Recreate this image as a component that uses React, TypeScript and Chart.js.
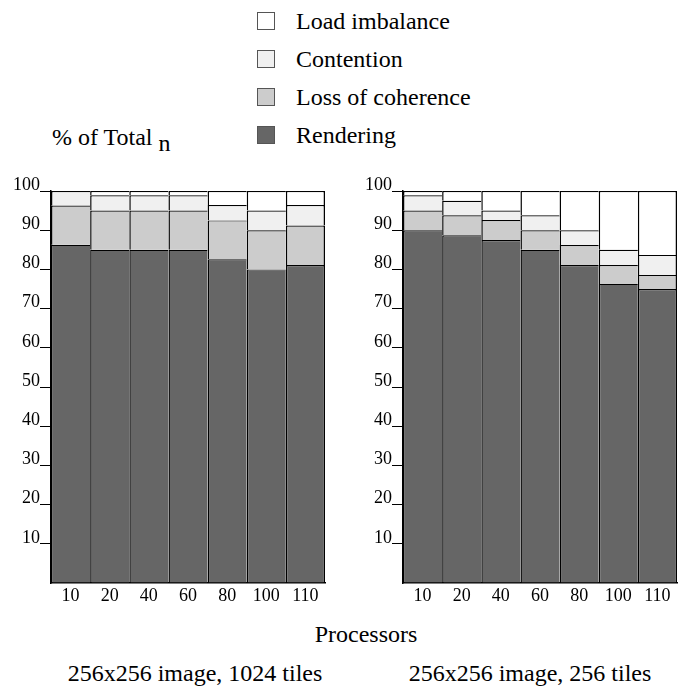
import React, { useEffect, useRef } from "react";
import { Chart, registerables } from "chart.js";

Chart.register(...registerables);

// Processor counts along the x axis
const processors = ["10", "20", "40", "60", "80", "100", "110"];

// 256x256 image, 1024 tiles (% of total time)
const rendering1024 = [86.3, 85, 85, 85, 82.6, 80, 81.1];
const coherence1024 = [10, 10, 10, 10, 9.9, 10, 10.1];
const contention1024 = [3.7, 3.9, 3.9, 3.9, 3.9, 5, 5.2];
const imbalance1024 = [0, 1.1, 1.1, 1.1, 3.6, 5, 3.6];

// 256x256 image, 256 tiles (% of total time)
const rendering256 = [90, 88.7, 87.5, 85, 81.1, 76.3, 75];
const coherence256 = [5, 5.1, 5.1, 5, 5.1, 4.8, 3.6];
const contention256 = [3.9, 3.7, 2.4, 3.8, 3.8, 3.9, 5.1];
const imbalance256 = [1.1, 2.5, 5, 6.2, 10, 15, 16.3];

const seriesNames = ["Rendering", "Loss of coherence", "Contention", "Load imbalance"];
const seriesColors = ["#666666", "#cccccc", "#f0f0f0", "#ffffff"];

const SERIF = "'Liberation Serif', 'Times New Roman', serif";

type PanelProps = {
  left: number;
  width: number;
  padRight: number;
  series: number[][];
};

function StackedPanel({ left, width, padRight, series }: PanelProps) {
  const ref = useRef<HTMLCanvasElement | null>(null);

  useEffect(() => {
    if (!ref.current) return;
    const lastIndex = processors.length - 1;
    const chart = new Chart(ref.current, {
      type: "bar",
      data: {
        labels: processors,
        datasets: series.map((data, i) => ({
          label: seriesNames[i],
          data,
          backgroundColor: seriesColors[i],
          borderColor: "#000000",
          borderSkipped: false,
          borderWidth: (ctx: any) => ({
            top: 1.2,
            left: 1.5,
            bottom: 0,
            right: ctx.dataIndex === lastIndex ? 1.5 : 0,
          }),
          categoryPercentage: 1,
          barPercentage: 1,
          inflateAmount: 0,
        })),
      },
      options: {
        responsive: false,
        animation: false,
        devicePixelRatio: 1,
        layout: { padding: { top: 21, right: padRight, left: 0, bottom: 0 } },
        plugins: {
          legend: { display: false },
          tooltip: { enabled: false },
        },
        scales: {
          x: {
            stacked: true,
            grid: { display: false, drawTicks: false },
            border: { display: true, color: "#000000", width: 1.5 },
            ticks: {
              color: "#000000",
              font: { family: SERIF, size: 18 },
              padding: 2,
              autoSkip: false,
              maxRotation: 0,
            },
            afterFit: (scale: any) => {
              scale.height = 27;
            },
          },
          y: {
            stacked: true,
            min: 0,
            max: 100,
            grid: {
              drawOnChartArea: false,
              drawTicks: true,
              tickLength: 11,
              tickWidth: 1,
              tickColor: (ctx: any) =>
                ctx.tick && ctx.tick.value === 0 ? "rgba(0,0,0,0)" : "#000000",
            },
            border: { display: true, color: "#000000", width: 1.5 },
            ticks: {
              stepSize: 10,
              color: "#000000",
              font: { family: SERIF, size: 18 },
              padding: 0,
              labelOffset: -6,
              callback: (v: any) => (Number(v) === 0 ? "" : String(v)),
            },
            afterFit: (scale: any) => {
              scale.width = 51;
            },
          },
        },
      } as any,
    });
    return () => chart.destroy();
  }, []);

  return (
    <canvas
      ref={ref}
      width={width}
      height={440}
      style={{ position: "absolute", left, top: 170, width, height: 440 }}
    />
  );
}

const textStyle: React.CSSProperties = {
  position: "absolute",
  fontFamily: SERIF,
  fontSize: 24,
  lineHeight: "24px",
  color: "#000000",
  whiteSpace: "nowrap",
};

// top of a 24px line box whose baseline sits at y
const lineTop = (baseline: number) => baseline - 20;

function Legend() {
  const rows = [3, 2, 1, 0];
  return (
    <>
      {rows.map((s, r) => {
        const baseline = 28.5 + r * 38.3;
        return (
          <React.Fragment key={seriesNames[s]}>
            <div
              style={{
                position: "absolute",
                left: 257,
                top: baseline - 17,
                width: 16,
                height: 16,
                background: seriesColors[s],
                border: "1px solid #555555",
              }}
            />
            <div style={{ ...textStyle, left: 296, top: lineTop(baseline) }}>
              {seriesNames[s]}
            </div>
          </React.Fragment>
        );
      })}
    </>
  );
}

export default function App() {
  return (
    <div
      style={{
        position: "absolute",
        left: 0,
        top: 0,
        width: 681,
        height: 692,
        background: "#ffffff",
        overflow: "hidden",
      }}
    >
      <Legend />
      <div style={{ ...textStyle, left: 52, top: lineTop(145) }}>
        % of Total <span style={{ position: "relative", top: 6 }}>n</span>
      </div>
      <StackedPanel
        left={0}
        width={340}
        padRight={15}
        series={[rendering1024, coherence1024, contention1024, imbalance1024]}
      />
      <StackedPanel
        left={352}
        width={329}
        padRight={4}
        series={[rendering256, coherence256, contention256, imbalance256]}
      />
      <div
        style={{
          ...textStyle,
          left: 366,
          top: lineTop(642),
          transform: "translateX(-50%)",
        }}
      >
        Processors
      </div>
      <div
        style={{
          ...textStyle,
          left: 195,
          top: lineTop(681),
          transform: "translateX(-50%)",
        }}
      >
        256x256 image, 1024 tiles
      </div>
      <div
        style={{
          ...textStyle,
          left: 530,
          top: lineTop(681),
          transform: "translateX(-50%)",
        }}
      >
        256x256 image, 256 tiles
      </div>
    </div>
  );
}
